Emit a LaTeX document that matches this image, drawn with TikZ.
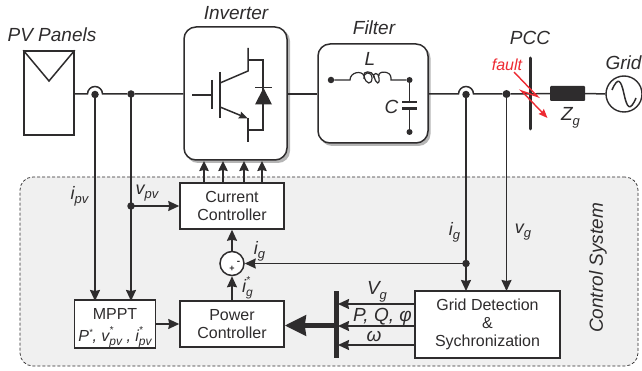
\documentclass[tikz,border=0pt]{standalone}
\usepackage{fontspec}
\setmainfont{Liberation Sans}
\usetikzlibrary{arrows.meta,calc}
\definecolor{ink}{HTML}{2E2C2D}
\definecolor{panelbg}{HTML}{F0F0F0}
\definecolor{shadowc}{HTML}{B5B5B5}
\definecolor{faultred}{HTML}{ED2A32}
\newcommand{\fz}[1]{\fontsize{#1}{#1}\selectfont}
\newcommand{\lowsub}[1]{\raisebox{-0.24em}{\fz{13}#1}}
\newcommand{\upstar}{\raisebox{0.4em}{\fz{9}*}}
\newcommand{\supsub}[1]{\makebox[0pt][l]{\raisebox{0.5em}{\fz{10}*}}\raisebox{-0.22em}{\fz{12}#1}}
\tikzset{
  wire/.style={draw=ink,line width=1.5pt},
  arr/.style={wire,-{Stealth[length=11pt,width=10pt,inset=1pt]}},
  sarr/.style={wire,-{Stealth[length=10pt,width=9.5pt,inset=1pt]}},
  blockbox/.style={draw=ink,line width=1.5pt,fill=white,align=center,text=ink,inner sep=0pt,font=\fz{16}},
  roundbox/.style={draw=ink,line width=1.5pt,fill=white,rounded corners=12pt,inner sep=0pt},
  dotnode/.style={circle,fill=ink,inner sep=0pt,minimum size=#1},
  title/.style={text=ink,font=\fz{19}\itshape,inner sep=0pt},
  siglabel/.style={text=ink,font=\fz{18}\itshape,inner sep=0pt}
}
\begin{document}
\begin{tikzpicture}[x=1pt,y=-1pt]
\useasboundingbox (0,0) rectangle (642,371);
% control system background
\node[draw=ink,densely dashed,line width=0.7pt,fill=panelbg,rounded corners=13pt,minimum width=618pt,minimum height=189pt,inner sep=0pt] (ctrl) at (329,271.5) {};
\node[title,rotate=90] (ctrltxt) at (598,268) {Control System};

% titles
\node[title] (pvtxt) at (52,35) {PV Panels};
\node[title] (invtxt) at (236,13) {Inverter};
\node[title] (filtxt) at (374,28) {Filter};
\node[title] (pcctxt) at (530,38) {PCC};
\node[title] (gridtxt) at (623.5,62.5) {Grid};

% PV panel
\node[draw=ink,line width=1.5pt,fill=white,minimum width=50pt,minimum height=84pt,inner sep=0pt] (pv) at (49,93) {};
\draw[wire] (pv.north west) -- (49,81) -- (pv.north east);

% inverter and filter
\fill[shadowc,rounded corners=12pt] (186,29) rectangle (290,163);
\node[roundbox,minimum width=103pt,minimum height=133pt] (inv) at (235.5,93.5) {};
\fill[shadowc,rounded corners=12pt] (320,46) rectangle (430.5,146);
\node[roundbox,minimum width=110pt,minimum height=99pt] (fil) at (373,93.5) {};

% IGBT
\draw[wire] (192,95) -- (212,95);
\draw[wire] (212,80) -- (212,109);
\draw[wire] (220,72) -- (220,118);
\draw[wire] (220,83) -- (248,71) -- (248,48);
\draw[wire] (248,60) -- (263,60) -- (263,130) -- (248,130);
\draw[wire,-{Stealth[length=9pt,width=7pt,inset=1pt]}] (220,107) -- (248,118.5);
\draw[wire] (248,118) -- (248,142);
\draw[wire] (255,87.5) -- (272,87.5);
\fill[ink] (263.5,88) -- (272,104.5) -- (255,104.5) -- cycle;

% filter contents
\node[dotnode=6.5pt] (fa) at (331,80) {};
\node[dotnode=6pt] (fb) at (409.5,80) {};
\node[dotnode=6pt] (fc) at (409.5,132) {};
\coordinate (la) at (350,80);
\coordinate (lb) at (391,80);
\draw[wire,line width=1.2pt] (fa) -- (la)
  .. controls (350,72) and (362,70) .. (364,76)
  .. controls (366,85) and (372,85) .. (372,78)
  .. controls (372,71) and (363,71) .. (364,79);
\draw[wire,line width=1.2pt] (364,76) .. controls (362,71) and (372,70) .. (374,76)
  .. controls (376,85) and (380,85) .. (379,78)
  .. controls (379,72) and (372,72) .. (374,78);
\draw[wire,line width=1.2pt] (379,76) .. controls (377,71) and (391,70) .. (391,78) -- (lb) -- (fb);
\coordinate (capt) at (409.5,102);
\coordinate (capb) at (409.5,108.5);
\draw[wire] (fb) -- (capt);
\draw[wire] (capb) -- (fc);
\draw[draw=ink,line width=2.2pt] (402,102) -- (417,102);
\draw[draw=ink,line width=2.2pt] (402,108.5) -- (417,108.5);
\node[title] (ltxt) at (370,58.5) {L};
\node[title] (ctxt) at (391.5,106.5) {C};

% top bus
\node[dotnode=7.5pt] (j1) at (95,94.5) {};
\node[dotnode=7.5pt] (j2) at (131,94) {};
\node[dotnode=7.5pt] (j3) at (466,94.5) {};
\node[dotnode=8pt] (j4) at (506.5,94) {};
\draw[wire] (pv.east |- j2) -- (87.5,94) arc[start angle=180,end angle=0,radius=7.5pt] -- (j2) -- (inv.west |- j2);
\draw[wire] (inv.east |- j2) -- (fil.west |- j2);
\draw[wire] (fil.east |- j2) -- (458.5,94) arc[start angle=180,end angle=0,radius=7.5pt] -- (j4);

% PCC and grid
\node[fill=ink,minimum width=35pt,minimum height=15pt,inner sep=0pt,rounded corners=1pt] (zg) at (567.5,93.5) {};
\node[draw=ink,line width=1.4pt,circle,minimum size=36pt,inner sep=0pt,fill=white] (grid) at (624,94) {};
\draw[wire] (j4) -- (zg);
\draw[wire] (zg) -- (grid);
\draw[ink,line width=3pt,line cap=round] (530,58) -- (530,129);
\draw[wire] (612,90) .. controls (618,76) and (621,80) .. (624,94)
   .. controls (627,108) and (630,112) .. (636,98);
\node[text=ink,font=\fz{19}\itshape,inner sep=0pt] (ztxt) at (570.5,118) {Z\lowsub{g}};
% fault
\node[text=faultred,font=\fz{16}\itshape,inner sep=0pt] (faulttxt) at (507,64.5) {fault};
\coordinate (fl1) at (514,72);
\coordinate (fl2) at (537.5,96.5);
\coordinate (fl3) at (521.5,91);
\coordinate (fl4) at (547.5,118);
\draw[faultred,line width=1.4pt,-{Stealth[length=9pt,width=7pt,inset=1pt]}] (fl1) -- (fl2) -- (fl3) -- (fl4);

% control blocks
\node[blockbox,minimum width=104pt,minimum height=46pt] (cc) at (232,206) {Current\\[2pt]Controller};
\node[blockbox,minimum width=104pt,minimum height=46pt] (pc) at (232,324) {Power\\[2pt]Controller};
\node[blockbox,minimum width=81pt,minimum height=46pt] (mppt) at (115,324) {\rule{0pt}{20pt}MPPT\\[6pt]{\fz{16}\itshape P\upstar, v\supsub{pv} , i\supsub{pv}}};
\node[blockbox,minimum width=145pt,minimum height=67pt,font=\fz{16}] (gd) at (487.5,324.5) {Grid Detection\\[2pt]\&\\[2pt]Sychronization};
\node[draw=ink,line width=1.5pt,fill=white,circle,minimum size=24pt,inner sep=0pt] (sum) at (232,263.5) {};
\node[text=ink,font=\bfseries\fz{9},inner sep=0pt] (plus) at (232,268.5) {+};
\node[text=ink,font=\bfseries\fz{10},inner sep=0pt] (minus) at (238.5,262.5) {-};

% inverter gate arrows
\foreach \gx/\gn in {204/a,223/b,244/c,262/d}{
  \coordinate (g\gn) at (\gx,183);
  \coordinate (h\gn) at (\gx,161);
  \draw[sarr] (g\gn) -- (h\gn);
}

% measurement connectors
\node[dotnode=7.5pt] (j5) at (131,206) {};
\node[dotnode=7.5pt] (j6) at (466,263.5) {};
\coordinate (mi) at (95,301);
\coordinate (mv) at (131,301);
\coordinate (gi) at (466,291);
\coordinate (gv) at (506.5,291);
\draw[arr] (j1.center) -- (mi);
\draw[arr] (j2.center) -- (mv);
\draw[arr] (j5.center) -- (cc.west);
\draw[arr] (j3.center) -- (gi);
\draw[arr] (j4.center) -- (gv);
\draw[arr] (j6.center) -- (sum.east);
\draw[arr] (sum.north) -- (cc.south);
\draw[arr] (pc.north) -- (sum.south);
\draw[arr] (mppt.east) -- (pc.west);

% signal bar
\coordinate (bt) at (336.5,291);
\coordinate (bb) at (336.5,358);
\coordinate (bm) at (336.5,325.5);
\coordinate (s1) at (415,304);
\coordinate (s2) at (415,326);
\coordinate (s3) at (415,345);
\coordinate (e1) at (338,304);
\coordinate (e2) at (338,326);
\coordinate (e3) at (338,345);
\draw[ink,line width=4.5pt] (bt) -- (bb);
\draw[ink,line width=5pt,-{Stealth[length=21pt,width=20pt,inset=1pt]}] (bm) -- (pc.east |- bm);
\draw[arr] (s1) -- (e1);
\draw[arr] (s2) -- (e2);
\draw[arr] (s3) -- (e3);

% labels
\node[siglabel] (ipv) at (79.5,196) {i\lowsub{pv}};
\node[siglabel] (vpv) at (147,193) {v\lowsub{pv}};
\node[siglabel] (ig1) at (259.5,251) {i\lowsub{g}};
\node[siglabel] (ig2) at (247.5,288) {i\supsub{g}};
\node[siglabel] (ig3) at (454.5,232) {i\lowsub{g}};
\node[siglabel] (vg) at (523,232) {v\lowsub{g}};
\node[siglabel,font=\fz{19}\itshape] (vgc) at (377,292) {V\lowsub{g}};
\node[siglabel,font=\fz{19}\itshape] (pq) at (382.5,316.5) {P, Q, φ};
\node[siglabel,font=\fz{19}\itshape] (om) at (374,336) {ω};
\end{tikzpicture}
\end{document}
